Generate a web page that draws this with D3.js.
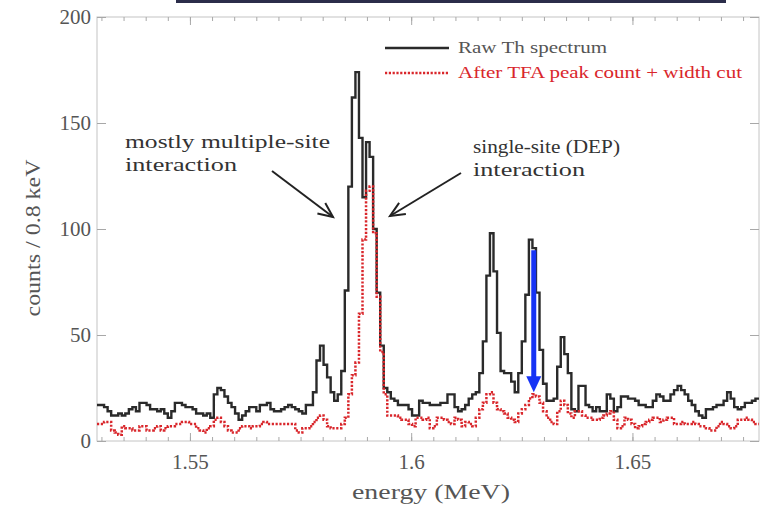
<!DOCTYPE html>
<html>
<head>
<meta charset="utf-8">
<script src="https://cdn.jsdelivr.net/npm/d3@7"></script>
<style>
  html, body { margin: 0; padding: 0; background: #fff; }
  svg { display: block; }
  text { font-family: "Liberation Serif", "DejaVu Serif", serif; }
</style>
</head>
<body>
<svg id="chart" width="763" height="505"></svg>
<script>
// ---- data (counts per 0.8 keV bin, first bin starts at 1.529 MeV) ----
const energyStart = 1.529;
const binWidth = 0.0008;
const rawCounts = [
  17,17,16,14,12,12,13,12,13,15,
  16,14,18,18,17,15,15,14,15,13,
  11,14,18,18,17,16,16,15,13,13,
  12,13,11,22,25,24,21,18,16,13,
  10,12,14,16,16,14,17,17,18,15,
  14,14,15,16,17,16,15,14,13,17,
  17,23,38,45,36,30,23,19,22,33,
  71,120,162,174,143,115,141,134,100,70,
  45,25,23,20,19,17,17,17,15,12,
  12,19,18,18,17,17,17,18,18,22,
  22,16,14,15,17,20,22,23,32,47,
  78,98,80,51,33,32,32,28,23,32,
  47,69,95,91,70,43,27,19,19,20,
  35,49,41,32,15,14,26,26,17,16,
  14,16,14,14,22,20,14,16,21,21,
  20,20,19,17,17,16,16,19,22,21,
  19,19,22,24,26,24,22,19,17,14,
  12,11,15,15,16,17,17,19,23,20,
  16,15,16,18,18,19,20
];
const cutCounts = [
  8,8,9,9,5,4,3,7,6,6,
  5,5,7,7,5,5,6,7,5,6,
  7,7,8,8,9,9,8,8,6,5,
  4,6,7,10,11,9,7,5,4,4,
  6,7,7,6,7,7,8,9,8,8,
  8,8,8,8,8,8,5,4,6,6,
  7,9,11,12,10,7,6,6,6,8,
  11,22,31,37,60,95,118,120,98,68,
  42,22,12,12,12,11,10,10,8,7,
  11,11,10,11,6,7,11,11,10,9,
  8,11,10,7,9,8,7,11,15,18,
  22,23,18,15,14,13,11,10,9,13,
  15,17,20,22,21,18,14,11,9,8,
  14,19,17,13,11,14,14,12,11,11,
  10,10,11,12,13,14,10,6,7,11,
  10,8,6,7,8,9,10,11,11,9,
  10,11,11,8,8,9,8,8,9,8,
  7,7,6,5,5,7,9,8,7,6,
  7,10,10,11,10,9,8
];
const xMajorTicks = [1.55, 1.6, 1.65];
const xTickLabels = ["1.55", "1.6", "1.65"];
const yTicks = [0, 50, 100, 150, 200];
const legendLabels = ["Raw Th spectrum", "After TFA peak count + width cut"];
const annotLeft = ["mostly multiple-site", "interaction"];
const annotRight = ["single-site (DEP)", "interaction"];
const xTitle = "energy (MeV)";
const yTitle = "counts / 0.8 keV";
const arrowEnergy = 1.6277;   // blue arrow position
const arrowTop = 90, arrowBottom = 23;

// ---- layout ----
const L = 97, R = 759, T = 17, B = 441;
const nBins = rawCounts.length;
const energyEnd = energyStart + binWidth * nBins;
const x = d3.scaleLinear().domain([energyStart, energyEnd]).range([L, R]);
const y = d3.scaleLinear().domain([0, 200]).range([B, T]);

const svg = d3.select("#chart");

// top decorative bar
svg.append("rect").attr("x", 176).attr("y", 0).attr("width", 550).attr("height", 3).attr("fill", "#2b2d4a");

// frame
svg.append("rect").attr("x", L).attr("y", T).attr("width", R - L).attr("height", B - T)
  .attr("fill", "none").attr("stroke", "#c4c4c4").attr("stroke-width", 1);

const minorX = d3.range(1.530, 1.6786, 0.005).map(v => +v.toFixed(3));
const tickCol = "#a8a8a8";
function styleAxis(g) {
  g.select(".domain").remove();
  g.selectAll(".tick line").attr("stroke", tickCol);
  g.selectAll("text").attr("fill", "#555").style("font-family", "'Liberation Serif', serif");
}
// bottom minor + major
svg.append("g").attr("transform", `translate(0,${B})`)
  .call(d3.axisBottom(x).tickValues(minorX).tickSize(-4).tickFormat(""))
  .call(styleAxis);
svg.append("g").attr("transform", `translate(0,${B})`)
  .call(d3.axisBottom(x).tickValues(xMajorTicks).tickSize(-8).tickPadding(13)
    .tickFormat((d, i) => xTickLabels[i]))
  .call(styleAxis)
  .selectAll("text").style("font-size", "21px");
// top minor + major
svg.append("g").attr("transform", `translate(0,${T})`)
  .call(d3.axisTop(x).tickValues(minorX).tickSize(-4).tickFormat(""))
  .call(styleAxis);
svg.append("g").attr("transform", `translate(0,${T})`)
  .call(d3.axisTop(x).tickValues(xMajorTicks).tickSize(-8).tickFormat(""))
  .call(styleAxis);
// left / right
svg.append("g").attr("transform", `translate(${L},0)`)
  .call(d3.axisLeft(y).tickValues(yTicks).tickSize(-9).tickPadding(6))
  .call(styleAxis)
  .selectAll("text").style("font-size", "21px");
svg.append("g").attr("transform", `translate(${R},0)`)
  .call(d3.axisRight(y).tickValues(yTicks).tickSize(-9).tickFormat(""))
  .call(styleAxis);

// histogram step lines
function stepPoints(arr) {
  const pts = arr.map((v, i) => [energyStart + i * binWidth, v]);
  pts.push([energyStart + arr.length * binWidth, arr[arr.length - 1]]);
  return pts;
}
const line = d3.line().x(d => x(d[0])).y(d => y(d[1])).curve(d3.curveStepAfter);
const plot = svg.append("g");
plot.append("path").attr("d", line(stepPoints(rawCounts)))
  .attr("fill", "none").attr("stroke", "#2a2a2a").attr("stroke-width", 2.4).attr("stroke-linejoin", "miter");
plot.append("path").attr("d", line(stepPoints(cutCounts)))
  .attr("fill", "none").attr("stroke", "#d9262b").attr("stroke-width", 2.5)
  .attr("stroke-dasharray", "2.2,1.6");

// legend
const lg = svg.append("g");
lg.append("line").attr("x1", 385).attr("x2", 449).attr("y1", 48).attr("y2", 48)
  .attr("stroke", "#2a2a2a").attr("stroke-width", 2.4);
lg.append("line").attr("x1", 385).attr("x2", 449).attr("y1", 73).attr("y2", 73)
  .attr("stroke", "#d9262b").attr("stroke-width", 2.5).attr("stroke-dasharray", "2.2,1.6");
lg.append("text").attr("x", 458).attr("y", 53).text(legendLabels[0])
  .attr("fill", "#555").style("font-size", "16px")
  .attr("textLength", 149).attr("lengthAdjust", "spacingAndGlyphs");
lg.append("text").attr("x", 458).attr("y", 78).text(legendLabels[1])
  .attr("fill", "#d9262b").style("font-size", "16px")
  .attr("textLength", 284).attr("lengthAdjust", "spacingAndGlyphs");

// annotations
const ann = svg.append("g").attr("fill", "#333").style("font-size", "19px");
function annText(xx, yy, s, w) {
  ann.append("text").attr("x", xx).attr("y", yy).text(s)
    .attr("textLength", w).attr("lengthAdjust", "spacingAndGlyphs");
}
annText(125, 148, annotLeft[0], 205);
annText(125, 171, annotLeft[1], 112);
annText(473, 153, annotRight[0], 147);
annText(473, 176, annotRight[1], 112);

function openArrow(x1, y1, x2, y2) {
  const g = svg.append("g").attr("stroke", "#222").attr("stroke-width", 2).attr("fill", "none");
  g.append("line").attr("x1", x1).attr("y1", y1).attr("x2", x2).attr("y2", y2);
  const a = Math.atan2(y2 - y1, x2 - x1);
  const len = 16, spread = 0.42;
  const p1 = [x2 - len * Math.cos(a - spread), y2 - len * Math.sin(a - spread)];
  const p2 = [x2 - len * Math.cos(a + spread), y2 - len * Math.sin(a + spread)];
  g.append("path").attr("d", `M${p1[0]},${p1[1]}L${x2},${y2}L${p2[0]},${p2[1]}`);
}
openArrow(272, 171, 333, 217);
openArrow(461, 173, 390, 216);

// blue arrow
const bx = x(arrowEnergy);
svg.append("line").attr("x1", bx).attr("x2", bx).attr("y1", y(arrowTop)).attr("y2", y(arrowBottom) - 13)
  .attr("stroke", "#1633f5").attr("stroke-width", 5);
svg.append("path")
  .attr("d", `M${bx - 7.5},${y(arrowBottom) - 16}L${bx + 7.5},${y(arrowBottom) - 16}L${bx},${y(arrowBottom)}Z`)
  .attr("fill", "#1633f5");

// axis titles
svg.append("text").attr("x", 431).attr("y", 499).attr("text-anchor", "middle")
  .attr("fill", "#555").style("font-size", "21px").text(xTitle)
  .attr("textLength", 158).attr("lengthAdjust", "spacingAndGlyphs");
svg.append("text").attr("transform", "translate(40,238) rotate(-90)").attr("text-anchor", "middle")
  .attr("fill", "#555").style("font-size", "21px").text(yTitle)
  .attr("textLength", 157).attr("lengthAdjust", "spacingAndGlyphs");
</script>
</body>
</html>
